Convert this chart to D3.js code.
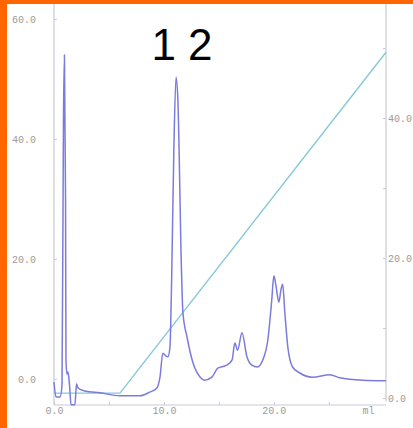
<!DOCTYPE html>
<html><head><meta charset="utf-8">
<script src="https://cdn.jsdelivr.net/npm/d3@7"></script>
<style>html,body{margin:0;padding:0;background:#fff;}svg{display:block;}</style>
</head><body>
<svg id="c" width="413" height="428"></svg>
<script>
// chromatogram (UV) trace: volume in ml, absorbance on left axis
const traceMl  = [0,0.18,0.55,0.73,0.86,0.95,1.05,1.09,1.18,1.27,1.41,1.55,1.9,2.05,2.18,2.8,4.2,6.0,7.8,8.7,9.36,9.64,9.9,10.2,10.36,10.55,10.7,10.9,11.1,11.27,11.36,11.55,11.73,12.1,12.64,13.3,13.7,14.36,14.9,15.7,16.2,16.45,16.7,17.1,17.55,18.0,18.5,19.0,19.45,19.8,20.0,20.18,20.45,20.64,20.8,21.0,21.27,21.7,22.36,23.5,25.1,26,28.1,30.2];
const traceVal = [-0.5,-3.0,-3.0,-1.0,43,54,30,3,0.8,1.2,-1,-4.3,-4.3,-0.8,-1.5,-2,-2.3,-2.8,-2.8,-2.2,-1.5,0.3,4.3,3.8,3.7,5.3,16.5,38,50.3,46.5,40,21.5,11,7,2.7,0.3,-0.2,0.3,1.8,2.3,3.2,6,4.8,7.7,3.7,2.3,2,3.2,6.5,13,17.2,15.7,12.8,14.8,15.8,11,5.3,2,1,0.3,0.7,0.2,-0.2,-0.3];
// gradient line: volume in ml, percent on right axis
const gradMl  = [0, 6.0, 30.2];
const gradVal = [0.7, 0.7, 49.4];
// axis ticks
const leftTicks  = [0,20,40,60];
const rightTicks = [0,20,40];
const rightMinor = [10,30,50];
const xLabelTicks = [0,10,20];
const xMinorTicks = [5,15,25];
const peakLabel = "1 2";
const xUnit = "ml";

const svg = d3.select("#c");
// orange frame
svg.append("rect").attr("x",0).attr("y",0).attr("width",413).attr("height",428).attr("fill","#ff6600");
svg.append("rect").attr("x",7).attr("y",4).attr("width",406).attr("height",424).attr("fill","#ffffff");

const x  = d3.scaleLinear().domain([0,30.2]).range([54,386]);
const yL = d3.scaleLinear().domain([0,60]).range([379,19]);
const yR = d3.scaleLinear().domain([0,40]).range([398,118]);
const axisCol = "#c9c9d6", txtCol = "#9a9a9a";
const fmt = d3.format(".1f");

// axis lines
svg.append("line").attr("x1",x(0)).attr("x2",x(0)).attr("y1",4).attr("y2",405).attr("stroke",axisCol).attr("stroke-width",1.2);
svg.append("line").attr("x1",x(30.2)).attr("x2",x(30.2)).attr("y1",4).attr("y2",401).attr("stroke",axisCol).attr("stroke-width",1.2);
svg.append("line").attr("x1",x(0)).attr("x2",x(30.2)).attr("y1",405).attr("y2",405).attr("stroke",axisCol).attr("stroke-width",1.2);

function styleAxis(g){
  g.select(".domain").remove();
  g.selectAll("line").attr("stroke",axisCol);
  g.selectAll("text").attr("fill",txtCol).attr("font-family","Liberation Mono, DejaVu Sans Mono, monospace").attr("font-size","10px");
}
// left axis
svg.append("g").attr("transform",`translate(${x(0)},0)`)
  .call(d3.axisLeft(yL).tickValues(leftTicks).tickFormat(fmt).tickSizeInner(-3).tickSizeOuter(0).tickPadding(18))
  .call(styleAxis);
// right axis
svg.append("g").attr("transform",`translate(${x(30.2)},0)`)
  .call(d3.axisRight(yR).tickValues(rightTicks).tickFormat(fmt).tickSizeInner(-3).tickSizeOuter(0).tickPadding(2))
  .call(styleAxis);
svg.append("g").attr("transform",`translate(${x(30.2)},0)`)
  .call(d3.axisRight(yR).tickValues(rightMinor).tickFormat("").tickSizeInner(-3).tickSizeOuter(0))
  .call(styleAxis);
// x axis
svg.append("g").attr("transform",`translate(0,405)`)
  .call(d3.axisBottom(x).tickValues(xLabelTicks).tickFormat(fmt).tickSizeInner(-3).tickSizeOuter(0).tickPadding(2))
  .call(styleAxis);
svg.append("g").attr("transform",`translate(0,405)`)
  .call(d3.axisBottom(x).tickValues(xMinorTicks).tickFormat("").tickSizeInner(-3).tickSizeOuter(0))
  .call(styleAxis);
svg.append("text").attr("x",x(28.6)).attr("y",414).attr("text-anchor","middle")
  .attr("fill",txtCol).attr("font-family","Liberation Mono, DejaVu Sans Mono, monospace").attr("font-size","10px").text(xUnit);

// gradient line
const gradData = gradMl.map((m,i)=>[m,gradVal[i]]);
svg.append("path").datum(gradData)
  .attr("d", d3.line().x(d=>x(d[0])).y(d=>yR(d[1])))
  .attr("fill","none").attr("stroke","#86c9d9").attr("stroke-width",1.4);

// chromatogram trace
const traceData = traceMl.map((m,i)=>[m,traceVal[i]]);
svg.append("path").datum(traceData)
  .attr("d", d3.line().x(d=>x(d[0])).y(d=>yL(d[1])).curve(d3.curveMonotoneX))
  .attr("fill","none").attr("stroke","#7b7bdc").attr("stroke-width",1.5);

// peak label
svg.append("text").attr("x",182).attr("y",60).attr("text-anchor","middle")
  .attr("font-family","Liberation Sans, Arial, sans-serif").attr("font-size","44px").attr("fill","#000").text(peakLabel);
</script>
</body></html>
